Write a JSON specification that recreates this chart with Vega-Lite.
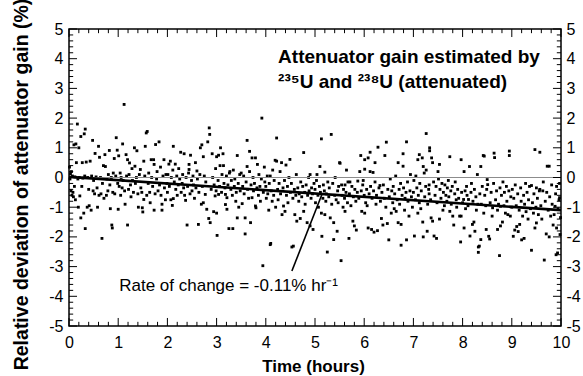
{
"$schema":"https://vega.github.io/schema/vega-lite/v6.json",
"width":492,"height":297,"autosize":"none",
"padding":{"left":69,"top":29,"right":22,"bottom":50},
"background":"#ffffff",
"config":{"view":{"stroke":"#000000","strokeWidth":1.5},"axis":{"grid":false,"domain":false,"ticks":false,"labelColor":"#000000","labelFont":"Liberation Sans","labelFontSize":16,"titleColor":"#000000","titleFont":"Liberation Sans","titleFontSize":19.5,"titleFontWeight":"bold","labelFlush":false,"labelOverlap":false,"labelBound":false}},
"resolve":{"axis":{"x":"independent","y":"independent"}},
"datasets":{
"xmaj":[{"p":0},{"p":1},{"p":2},{"p":3},{"p":4},{"p":5},{"p":6},{"p":7},{"p":8},{"p":9},{"p":10}],
"xmin":[{"p":0.2},{"p":0.4},{"p":0.6},{"p":0.8},{"p":1.2},{"p":1.4},{"p":1.6},{"p":1.8},{"p":2.2},{"p":2.4},{"p":2.6},{"p":2.8},{"p":3.2},{"p":3.4},{"p":3.6},{"p":3.8},{"p":4.2},{"p":4.4},{"p":4.6},{"p":4.8},{"p":5.2},{"p":5.4},{"p":5.6},{"p":5.8},{"p":6.2},{"p":6.4},{"p":6.6},{"p":6.8},{"p":7.2},{"p":7.4},{"p":7.6},{"p":7.8},{"p":8.2},{"p":8.4},{"p":8.6},{"p":8.8},{"p":9.2},{"p":9.4},{"p":9.6},{"p":9.8}],
"ymaj":[{"p":-5},{"p":-4},{"p":-3},{"p":-2},{"p":-1},{"p":0},{"p":1},{"p":2},{"p":3},{"p":4},{"p":5}],
"ymin":[{"p":-4.8},{"p":-4.6},{"p":-4.4},{"p":-4.2},{"p":-3.8},{"p":-3.6},{"p":-3.4},{"p":-3.2},{"p":-2.8},{"p":-2.6},{"p":-2.4},{"p":-2.2},{"p":-1.8},{"p":-1.6},{"p":-1.4},{"p":-1.2},{"p":-0.8},{"p":-0.6},{"p":-0.4},{"p":-0.2},{"p":0.2},{"p":0.4},{"p":0.6},{"p":0.8},{"p":1.2},{"p":1.4},{"p":1.6},{"p":1.8},{"p":2.2},{"p":2.4},{"p":2.6},{"p":2.8},{"p":3.2},{"p":3.4},{"p":3.6},{"p":3.8},{"p":4.2},{"p":4.4},{"p":4.6},{"p":4.8}]
},
"layer":[
{"data":{"values":[
{"t":0.01,"v":0.35},{"t":0.02,"v":-0.05},{"t":0.03,"v":0.13},{"t":0.04,"v":-0.45},{"t":0.05,"v":0.2},{"t":0.06,"v":-0.6},{"t":0.07,"v":0.05},{"t":0.08,"v":-0.5},{"t":0.09,"v":-0.65},{"t":0.10,"v":1.1},{"t":0.11,"v":-0.3},{"t":0.12,"v":0.02},{"t":0.13,"v":-0.75},{"t":0.14,"v":1.13},{"t":0.15,"v":0.5},{"t":0.17,"v":1.8},{"t":0.18,"v":-0.05},{"t":0.19,"v":-1.0},{"t":0.20,"v":1.0},{"t":0.21,"v":0.0},{"t":0.22,"v":-0.62},{"t":0.24,"v":1.38},{"t":0.24,"v":-1.36},{"t":0.26,"v":-0.3},{"t":0.27,"v":0.5},{"t":0.28,"v":-0.02},{"t":0.30,"v":-1.2},{"t":0.31,"v":1.47},{"t":0.32,"v":0.05},{"t":0.33,"v":1.63},{"t":0.33,"v":-1.72},{"t":0.35,"v":0.52},{"t":0.37,"v":-1.0},{"t":0.38,"v":0.0},{"t":0.40,"v":-0.4},{"t":0.41,"v":-0.95},{"t":0.43,"v":0.55},{"t":0.45,"v":-1.1},{"t":0.46,"v":0.05},{"t":0.48,"v":1.25},{"t":0.49,"v":-0.45},{"t":0.50,"v":-0.1},{"t":0.52,"v":-0.55},{"t":0.53,"v":0.81},{"t":0.55,"v":0.02},{"t":0.57,"v":-0.35},{"t":0.58,"v":-1.0},{"t":0.60,"v":1.05},{"t":0.61,"v":-0.6},{"t":0.62,"v":0.68},{"t":0.64,"v":0.0},{"t":0.65,"v":-0.55},{"t":0.67,"v":-2.05},{"t":0.68,"v":-0.2},{"t":0.70,"v":0.4},{"t":0.71,"v":-0.7},{"t":0.73,"v":0.77},{"t":0.74,"v":0.37},{"t":0.76,"v":-0.6},{"t":0.77,"v":-0.05},{"t":0.79,"v":-0.45},{"t":0.80,"v":0.1},{"t":0.82,"v":0.91},{"t":0.83,"v":-0.25},{"t":0.84,"v":-1.05},{"t":0.86,"v":0.0},{"t":0.87,"v":-1.6},{"t":0.88,"v":-1.7},{"t":0.89,"v":-0.5},{"t":0.90,"v":0.15},{"t":0.92,"v":0.64},{"t":0.93,"v":-0.55},{"t":0.95,"v":0.05},{"t":0.96,"v":1.34},{"t":0.98,"v":0.92},{"t":0.99,"v":-0.2},
{"t":1.00,"v":-1.07},{"t":1.01,"v":0.73},{"t":1.02,"v":-0.3},{"t":1.04,"v":0.15},{"t":1.05,"v":-0.6},{"t":1.06,"v":0.0},{"t":1.08,"v":-0.35},{"t":1.09,"v":1.13},{"t":1.10,"v":-0.1},{"t":1.12,"v":2.46},{"t":1.13,"v":-0.45},{"t":1.14,"v":-0.9},{"t":1.16,"v":0.77},{"t":1.17,"v":0.05},{"t":1.19,"v":0.6},{"t":1.19,"v":-1.6},{"t":1.21,"v":-0.4},{"t":1.22,"v":0.1},{"t":1.23,"v":0.49},{"t":1.25,"v":-0.25},{"t":1.26,"v":-0.65},{"t":1.28,"v":0.3},{"t":1.29,"v":-0.1},{"t":1.31,"v":-0.5},{"t":1.33,"v":1.0},{"t":1.34,"v":0.38},{"t":1.35,"v":-0.2},{"t":1.37,"v":0.0},{"t":1.38,"v":0.9},{"t":1.40,"v":-0.55},{"t":1.41,"v":-1.0},{"t":1.43,"v":0.1},{"t":1.45,"v":0.27},{"t":1.46,"v":-0.35},{"t":1.48,"v":-0.5},{"t":1.49,"v":-1.02},{"t":1.50,"v":-1.16},{"t":1.52,"v":0.55},{"t":1.52,"v":-0.74},{"t":1.54,"v":0.05},{"t":1.55,"v":1.05},{"t":1.57,"v":1.5},{"t":1.58,"v":-0.6},{"t":1.59,"v":1.55},{"t":1.61,"v":-0.2},{"t":1.62,"v":0.15},{"t":1.64,"v":-0.5},{"t":1.65,"v":-0.85},{"t":1.67,"v":0.6},{"t":1.68,"v":0.0},{"t":1.70,"v":-0.3},{"t":1.72,"v":0.6},{"t":1.73,"v":0.44},{"t":1.73,"v":-1.1},{"t":1.75,"v":-0.55},{"t":1.76,"v":1.11},{"t":1.78,"v":-0.05},{"t":1.79,"v":0.2},{"t":1.81,"v":-0.45},{"t":1.83,"v":1.2},{"t":1.84,"v":-0.25},{"t":1.86,"v":0.35},{"t":1.87,"v":-0.6},{"t":1.89,"v":-0.9},{"t":1.89,"v":-1.1},{"t":1.91,"v":0.05},{"t":1.93,"v":0.6},{"t":1.94,"v":-0.35},{"t":1.96,"v":-0.75},{"t":1.97,"v":0.1},{"t":1.99,"v":-0.2},
{"t":2.00,"v":-0.5},{"t":2.01,"v":0.1},{"t":2.03,"v":0.45},{"t":2.04,"v":-0.3},{"t":2.06,"v":0.55},{"t":2.07,"v":-0.75},{"t":2.08,"v":0.0},{"t":2.10,"v":-0.94},{"t":2.11,"v":0.25},{"t":2.12,"v":1.05},{"t":2.12,"v":-0.71},{"t":2.14,"v":-0.15},{"t":2.16,"v":0.45},{"t":2.17,"v":-0.4},{"t":2.19,"v":0.05},{"t":2.20,"v":-0.6},{"t":2.22,"v":-0.25},{"t":2.23,"v":0.3},{"t":2.25,"v":-0.05},{"t":2.27,"v":0.85},{"t":2.28,"v":-0.5},{"t":2.30,"v":-0.2},{"t":2.31,"v":0.1},{"t":2.33,"v":-0.35},{"t":2.34,"v":0.8},{"t":2.35,"v":-0.6},{"t":2.37,"v":-0.77},{"t":2.38,"v":0.0},{"t":2.40,"v":-1.6},{"t":2.41,"v":-0.3},{"t":2.43,"v":0.15},{"t":2.44,"v":0.44},{"t":2.44,"v":0.27},{"t":2.46,"v":-0.55},{"t":2.47,"v":0.75},{"t":2.49,"v":-0.1},{"t":2.50,"v":-0.45},{"t":2.52,"v":0.05},{"t":2.53,"v":-0.25},{"t":2.55,"v":-0.7},{"t":2.57,"v":0.5},{"t":2.58,"v":-0.35},{"t":2.60,"v":0.22},{"t":2.61,"v":-0.05},{"t":2.63,"v":-1.58},{"t":2.64,"v":-0.5},{"t":2.66,"v":0.1},{"t":2.67,"v":1.0},{"t":2.69,"v":-0.9},{"t":2.70,"v":1.1},{"t":2.71,"v":-0.3},{"t":2.73,"v":0.7},{"t":2.73,"v":-0.85},{"t":2.75,"v":0.05},{"t":2.77,"v":-0.57},{"t":2.78,"v":-0.15},{"t":2.80,"v":-1.07},{"t":2.82,"v":1.2},{"t":2.84,"v":-1.38},{"t":2.85,"v":1.67},{"t":2.86,"v":1.45},{"t":2.87,"v":-1.52},{"t":2.89,"v":-0.4},{"t":2.91,"v":0.8},{"t":2.92,"v":0.0},{"t":2.94,"v":-1.15},{"t":2.95,"v":-0.25},{"t":2.97,"v":-0.62},{"t":2.98,"v":0.3},{"t":2.99,"v":-0.45},
{"t":3.00,"v":-1.2},{"t":3.00,"v":0.7},{"t":3.01,"v":-1.95},{"t":3.03,"v":-0.1},{"t":3.04,"v":0.75},{"t":3.04,"v":-0.57},{"t":3.06,"v":-0.3},{"t":3.07,"v":0.4},{"t":3.08,"v":1.0},{"t":3.10,"v":-0.5},{"t":3.11,"v":0.1},{"t":3.13,"v":0.8},{"t":3.14,"v":0.4},{"t":3.15,"v":-0.2},{"t":3.17,"v":-0.35},{"t":3.18,"v":-0.57},{"t":3.18,"v":-0.91},{"t":3.20,"v":0.05},{"t":3.21,"v":-0.68},{"t":3.21,"v":-1.07},{"t":3.23,"v":-0.25},{"t":3.25,"v":-1.72},{"t":3.26,"v":0.15},{"t":3.27,"v":0.2},{"t":3.29,"v":-0.4},{"t":3.30,"v":-0.1},{"t":3.32,"v":-0.6},{"t":3.33,"v":-1.72},{"t":3.34,"v":0.25},{"t":3.36,"v":-0.3},{"t":3.37,"v":-0.05},{"t":3.39,"v":-0.8},{"t":3.40,"v":-0.5},{"t":3.42,"v":0.74},{"t":3.42,"v":-1.36},{"t":3.44,"v":-0.2},{"t":3.45,"v":-1.0},{"t":3.47,"v":0.1},{"t":3.48,"v":-0.45},{"t":3.50,"v":0.15},{"t":3.52,"v":-0.88},{"t":3.53,"v":-0.3},{"t":3.55,"v":0.05},{"t":3.56,"v":-0.55},{"t":3.58,"v":-1.36},{"t":3.58,"v":-1.9},{"t":3.60,"v":-0.15},{"t":3.62,"v":1.25},{"t":3.62,"v":0.37},{"t":3.63,"v":-0.4},{"t":3.65,"v":-0.7},{"t":3.67,"v":0.88},{"t":3.67,"v":0.2},{"t":3.69,"v":-1.52},{"t":3.70,"v":-0.25},{"t":3.72,"v":0.66},{"t":3.72,"v":-0.68},{"t":3.74,"v":0.0},{"t":3.75,"v":-0.45},{"t":3.77,"v":-0.2},{"t":3.79,"v":0.66},{"t":3.79,"v":-0.96},{"t":3.80,"v":-1.02},{"t":3.82,"v":-0.35},{"t":3.83,"v":0.44},{"t":3.85,"v":-0.6},{"t":3.86,"v":0.1},{"t":3.88,"v":-0.3},{"t":3.89,"v":-0.8},{"t":3.91,"v":-0.05},{"t":3.92,"v":2.0},{"t":3.94,"v":-2.97},{"t":3.95,"v":-0.5},{"t":3.97,"v":0.35},{"t":3.98,"v":-0.15},
{"t":4.00,"v":-0.3},{"t":4.01,"v":-0.7},{"t":4.03,"v":0.05},{"t":4.04,"v":-0.55},{"t":4.06,"v":-1.1},{"t":4.07,"v":-0.2},{"t":4.09,"v":0.05},{"t":4.09,"v":-2.26},{"t":4.10,"v":-2.22},{"t":4.11,"v":-0.45},{"t":4.13,"v":-0.8},{"t":4.14,"v":0.25},{"t":4.16,"v":-0.6},{"t":4.17,"v":-0.1},{"t":4.19,"v":0.58},{"t":4.20,"v":-1.0},{"t":4.22,"v":0.55},{"t":4.22,"v":1.33},{"t":4.24,"v":-0.4},{"t":4.25,"v":-0.75},{"t":4.27,"v":-0.2},{"t":4.29,"v":0.2},{"t":4.30,"v":-0.55},{"t":4.32,"v":0.5},{"t":4.33,"v":-1.25},{"t":4.35,"v":-0.35},{"t":4.36,"v":-0.96},{"t":4.38,"v":-0.1},{"t":4.39,"v":-1.14},{"t":4.41,"v":0.42},{"t":4.42,"v":-0.6},{"t":4.44,"v":-0.3},{"t":4.45,"v":-0.85},{"t":4.47,"v":0.0},{"t":4.49,"v":0.61},{"t":4.50,"v":-0.5},{"t":4.52,"v":-0.2},{"t":4.53,"v":-2.34},{"t":4.55,"v":-0.7},{"t":4.56,"v":-2.31},{"t":4.58,"v":-0.4},{"t":4.59,"v":-1.25},{"t":4.61,"v":-0.6},{"t":4.62,"v":0.1},{"t":4.63,"v":-1.47},{"t":4.65,"v":-0.35},{"t":4.67,"v":-0.8},{"t":4.68,"v":-0.55},{"t":4.70,"v":-1.38},{"t":4.71,"v":-0.15},{"t":4.73,"v":-0.65},{"t":4.75,"v":-0.3},{"t":4.77,"v":0.84},{"t":4.77,"v":-1.14},{"t":4.79,"v":-0.5},{"t":4.80,"v":-0.9},{"t":4.82,"v":-0.25},{"t":4.84,"v":-1.52},{"t":4.85,"v":-0.6},{"t":4.87,"v":0.0},{"t":4.88,"v":-0.45},{"t":4.90,"v":0.1},{"t":4.90,"v":-1.63},{"t":4.92,"v":-0.7},{"t":4.93,"v":-0.35},{"t":4.95,"v":-0.55},{"t":4.96,"v":-1.75},{"t":4.98,"v":-0.2},
{"t":5.00,"v":-0.4},{"t":5.01,"v":-0.85},{"t":5.03,"v":-0.1},{"t":5.04,"v":0.1},{"t":5.06,"v":-0.6},{"t":5.07,"v":-1.0},{"t":5.09,"v":-0.3},{"t":5.10,"v":0.37},{"t":5.11,"v":-0.5},{"t":5.13,"v":1.3},{"t":5.13,"v":-1.2},{"t":5.14,"v":-1.98},{"t":5.16,"v":-0.7},{"t":5.17,"v":-0.25},{"t":5.19,"v":-0.45},{"t":5.20,"v":0.18},{"t":5.20,"v":-1.25},{"t":5.22,"v":-0.8},{"t":5.23,"v":-0.55},{"t":5.25,"v":-2.51},{"t":5.26,"v":-0.15},{"t":5.28,"v":-0.65},{"t":5.29,"v":-0.35},{"t":5.31,"v":-1.36},{"t":5.33,"v":1.45},{"t":5.34,"v":-0.9},{"t":5.36,"v":-0.2},{"t":5.38,"v":-1.52},{"t":5.38,"v":-2.09},{"t":5.40,"v":-0.6},{"t":5.41,"v":0.0},{"t":5.43,"v":-0.75},{"t":5.45,"v":-1.81},{"t":5.46,"v":-0.45},{"t":5.47,"v":-0.85},{"t":5.48,"v":-0.3},{"t":5.50,"v":0.5},{"t":5.51,"v":0.48},{"t":5.53,"v":-2.8},{"t":5.54,"v":-0.25},{"t":5.55,"v":-0.6},{"t":5.57,"v":-1.0},{"t":5.58,"v":-0.4},{"t":5.60,"v":-0.7},{"t":5.61,"v":-0.25},{"t":5.61,"v":-1.14},{"t":5.63,"v":-0.5},{"t":5.64,"v":0.25},{"t":5.66,"v":-0.85},{"t":5.67,"v":-0.15},{"t":5.69,"v":-2.05},{"t":5.70,"v":-0.55},{"t":5.71,"v":-0.15},{"t":5.73,"v":-0.95},{"t":5.75,"v":-0.3},{"t":5.77,"v":-1.47},{"t":5.78,"v":-0.65},{"t":5.80,"v":-1.63},{"t":5.81,"v":-0.4},{"t":5.83,"v":-0.8},{"t":5.84,"v":-1.77},{"t":5.86,"v":-0.5},{"t":5.87,"v":-0.12},{"t":5.89,"v":-0.7},{"t":5.91,"v":0.2},{"t":5.93,"v":0.74},{"t":5.94,"v":-0.45},{"t":5.95,"v":-1.14},{"t":5.97,"v":-0.25},{"t":5.98,"v":-0.1},
{"t":6.00,"v":-0.6},{"t":6.01,"v":0.6},{"t":6.01,"v":0.28},{"t":6.01,"v":-1.2},{"t":6.03,"v":-0.85},{"t":6.05,"v":-0.4},{"t":6.06,"v":-0.95},{"t":6.08,"v":0.66},{"t":6.08,"v":-1.7},{"t":6.10,"v":-0.55},{"t":6.12,"v":0.85},{"t":6.12,"v":0.2},{"t":6.13,"v":-0.3},{"t":6.15,"v":-1.75},{"t":6.16,"v":-0.7},{"t":6.18,"v":0.17},{"t":6.19,"v":-0.45},{"t":6.20,"v":-1.84},{"t":6.22,"v":0.5},{"t":6.22,"v":-0.15},{"t":6.24,"v":-0.9},{"t":6.25,"v":-0.6},{"t":6.27,"v":-1.79},{"t":6.28,"v":1.02},{"t":6.30,"v":-0.35},{"t":6.32,"v":-0.27},{"t":6.33,"v":-0.8},{"t":6.35,"v":-1.38},{"t":6.36,"v":-0.5},{"t":6.38,"v":-1.6},{"t":6.39,"v":-0.25},{"t":6.41,"v":-0.7},{"t":6.42,"v":0.74},{"t":6.44,"v":-1.0},{"t":6.45,"v":1.19},{"t":6.47,"v":-1.55},{"t":6.48,"v":-0.4},{"t":6.50,"v":-2.1},{"t":6.51,"v":-0.65},{"t":6.53,"v":-0.05},{"t":6.55,"v":-1.2},{"t":6.56,"v":-0.45},{"t":6.58,"v":-0.85},{"t":6.59,"v":-0.3},{"t":6.61,"v":-1.05},{"t":6.62,"v":-0.55},{"t":6.64,"v":0.05},{"t":6.65,"v":-1.14},{"t":6.67,"v":-0.75},{"t":6.69,"v":0.5},{"t":6.69,"v":-1.52},{"t":6.71,"v":-0.4},{"t":6.72,"v":-0.9},{"t":6.74,"v":-0.2},{"t":6.75,"v":-1.58},{"t":6.75,"v":-2.28},{"t":6.77,"v":-0.6},{"t":6.79,"v":0.8},{"t":6.79,"v":0.38},{"t":6.80,"v":-0.35},{"t":6.82,"v":-1.1},{"t":6.83,"v":-0.7},{"t":6.85,"v":-0.5},{"t":6.86,"v":1.2},{"t":6.86,"v":-2.1},{"t":6.88,"v":-0.15},{"t":6.89,"v":-0.8},{"t":6.91,"v":-1.3},{"t":6.93,"v":-0.45},{"t":6.94,"v":0.1},{"t":6.96,"v":-0.65},{"t":6.98,"v":-1.0},
{"t":7.00,"v":-0.5},{"t":7.01,"v":-0.1},{"t":7.02,"v":-1.97},{"t":7.04,"v":-0.75},{"t":7.05,"v":0.05},{"t":7.07,"v":-0.35},{"t":7.09,"v":0.6},{"t":7.09,"v":-1.2},{"t":7.10,"v":-0.6},{"t":7.12,"v":0.77},{"t":7.12,"v":-0.85},{"t":7.13,"v":-0.2},{"t":7.15,"v":-1.05},{"t":7.16,"v":-0.45},{"t":7.18,"v":0.66},{"t":7.19,"v":-1.5},{"t":7.20,"v":0.37},{"t":7.20,"v":-2.0},{"t":7.22,"v":0.15},{"t":7.23,"v":-0.65},{"t":7.25,"v":-0.3},{"t":7.26,"v":1.48},{"t":7.26,"v":0.25},{"t":7.28,"v":-1.81},{"t":7.29,"v":-0.9},{"t":7.31,"v":-0.4},{"t":7.32,"v":-0.25},{"t":7.32,"v":-0.55},{"t":7.33,"v":1.0},{"t":7.33,"v":0.9},{"t":7.35,"v":-0.75},{"t":7.36,"v":-1.36},{"t":7.37,"v":0.66},{"t":7.39,"v":0.5},{"t":7.39,"v":-1.47},{"t":7.41,"v":-0.15},{"t":7.42,"v":-1.97},{"t":7.44,"v":-0.6},{"t":7.46,"v":-0.3},{"t":7.47,"v":-2.05},{"t":7.48,"v":-0.85},{"t":7.50,"v":0.2},{"t":7.51,"v":-0.05},{"t":7.53,"v":0.44},{"t":7.53,"v":-1.4},{"t":7.54,"v":-0.4},{"t":7.56,"v":-0.7},{"t":7.58,"v":-0.2},{"t":7.60,"v":-1.1},{"t":7.61,"v":-0.5},{"t":7.63,"v":-0.95},{"t":7.64,"v":-0.25},{"t":7.66,"v":-0.6},{"t":7.68,"v":-0.8},{"t":7.69,"v":-0.35},{"t":7.71,"v":-0.1},{"t":7.72,"v":-0.65},{"t":7.74,"v":0.7},{"t":7.74,"v":-1.14},{"t":7.76,"v":-0.45},{"t":7.77,"v":-0.9},{"t":7.79,"v":-0.3},{"t":7.80,"v":-1.3},{"t":7.82,"v":-1.6},{"t":7.84,"v":-0.55},{"t":7.85,"v":-0.15},{"t":7.87,"v":-0.75},{"t":7.88,"v":-1.0},{"t":7.90,"v":-0.4},{"t":7.92,"v":-0.7},{"t":7.94,"v":-1.3},{"t":7.96,"v":-2.17},{"t":7.97,"v":0.6},{"t":7.97,"v":-1.3},{"t":7.98,"v":-0.5},
{"t":8.00,"v":-0.85},{"t":8.02,"v":-0.74},{"t":8.03,"v":0.2},{"t":8.03,"v":-1.7},{"t":8.05,"v":-0.45},{"t":8.06,"v":-1.05},{"t":8.08,"v":-0.3},{"t":8.09,"v":-0.6},{"t":8.11,"v":-0.95},{"t":8.12,"v":-0.74},{"t":8.14,"v":0.37},{"t":8.15,"v":-1.97},{"t":8.17,"v":-0.5},{"t":8.18,"v":-0.2},{"t":8.20,"v":-1.58},{"t":8.21,"v":-0.8},{"t":8.23,"v":-1.5},{"t":8.24,"v":-0.4},{"t":8.25,"v":-1.81},{"t":8.27,"v":-0.65},{"t":8.28,"v":-1.1},{"t":8.30,"v":0.1},{"t":8.31,"v":-0.9},{"t":8.32,"v":-2.34},{"t":8.32,"v":-2.52},{"t":8.34,"v":-2.31},{"t":8.35,"v":-0.55},{"t":8.37,"v":0.37},{"t":8.37,"v":-2.09},{"t":8.38,"v":-0.9},{"t":8.40,"v":-0.3},{"t":8.42,"v":0.74},{"t":8.43,"v":-1.2},{"t":8.44,"v":0.72},{"t":8.45,"v":-0.6},{"t":8.47,"v":-0.95},{"t":8.48,"v":-1.75},{"t":8.49,"v":-0.4},{"t":8.50,"v":-0.07},{"t":8.51,"v":-0.24},{"t":8.53,"v":-1.98},{"t":8.55,"v":-2.07},{"t":8.56,"v":-0.85},{"t":8.58,"v":-0.5},{"t":8.60,"v":-1.3},{"t":8.61,"v":-1.02},{"t":8.63,"v":-0.2},{"t":8.64,"v":0.82},{"t":8.65,"v":0.67},{"t":8.67,"v":-0.75},{"t":8.69,"v":-0.45},{"t":8.71,"v":-1.1},{"t":8.71,"v":-1.75},{"t":8.73,"v":-0.9},{"t":8.75,"v":-2.63},{"t":8.76,"v":-0.35},{"t":8.77,"v":-0.97},{"t":8.77,"v":-1.63},{"t":8.79,"v":-0.6},{"t":8.81,"v":-1.5},{"t":8.82,"v":-0.15},{"t":8.84,"v":-0.95},{"t":8.85,"v":-0.5},{"t":8.87,"v":-1.2},{"t":8.89,"v":-0.3},{"t":8.90,"v":-0.8},{"t":8.92,"v":-1.25},{"t":8.94,"v":-0.45},{"t":8.95,"v":0.89},{"t":8.95,"v":0.74},{"t":8.97,"v":-1.3},{"t":8.98,"v":-0.65},
{"t":9.00,"v":-1.0},{"t":9.01,"v":-0.4},{"t":9.03,"v":-1.98},{"t":9.04,"v":-0.7},{"t":9.06,"v":-1.77},{"t":9.07,"v":-0.25},{"t":9.09,"v":-0.95},{"t":9.10,"v":-1.65},{"t":9.12,"v":-0.55},{"t":9.13,"v":-1.82},{"t":9.15,"v":-1.1},{"t":9.16,"v":-1.58},{"t":9.18,"v":-0.35},{"t":9.19,"v":-0.8},{"t":9.20,"v":-2.1},{"t":9.22,"v":-1.3},{"t":9.24,"v":-0.6},{"t":9.25,"v":-2.05},{"t":9.26,"v":-0.9},{"t":9.28,"v":-0.2},{"t":9.29,"v":-1.15},{"t":9.31,"v":-0.5},{"t":9.33,"v":-1.4},{"t":9.34,"v":-0.75},{"t":9.36,"v":-0.3},{"t":9.38,"v":-1.05},{"t":9.40,"v":-0.27},{"t":9.40,"v":-2.45},{"t":9.42,"v":-0.85},{"t":9.44,"v":-1.2},{"t":9.45,"v":-0.55},{"t":9.47,"v":0.94},{"t":9.47,"v":-1.7},{"t":9.49,"v":-1.0},{"t":9.50,"v":-0.35},{"t":9.50,"v":-1.53},{"t":9.52,"v":-0.7},{"t":9.54,"v":-1.25},{"t":9.56,"v":-0.45},{"t":9.57,"v":0.85},{"t":9.57,"v":-0.4},{"t":9.59,"v":-0.95},{"t":9.61,"v":-1.4},{"t":9.63,"v":-0.45},{"t":9.64,"v":-0.15},{"t":9.66,"v":-2.78},{"t":9.68,"v":-0.8},{"t":9.70,"v":-1.9},{"t":9.71,"v":-0.5},{"t":9.72,"v":0.38},{"t":9.74,"v":-1.1},{"t":9.76,"v":0.38},{"t":9.76,"v":-2.0},{"t":9.77,"v":-0.65},{"t":9.79,"v":-1.3},{"t":9.81,"v":-0.25},{"t":9.82,"v":-0.9},{"t":9.84,"v":-1.6},{"t":9.86,"v":-1.25},{"t":9.88,"v":-0.97},{"t":9.89,"v":-0.55},{"t":9.90,"v":-2.6},{"t":9.91,"v":-0.3},{"t":9.91,"v":-1.7},{"t":9.93,"v":-2.54},{"t":9.94,"v":-1.05},{"t":9.96,"v":-0.75},{"t":9.97,"v":-0.2},{"t":9.97,"v":-0.68},{"t":9.98,"v":-1.92},{"t":9.99,"v":-1.35}
]},
"mark":{"type":"square","size":8,"color":"#000000","opacity":1,"filled":true},
"encoding":{
"x":{"field":"t","type":"quantitative","scale":{"domain":[0,10],"nice":false,"zero":false},"axis":{"orient":"bottom","values":[0,1,2,3,4,5,6,7,8,9,10],"labelPadding":8,"labelExpr":"'' + datum.value","title":"Time (hours)","titleFontSize":17,"titleX":244,"titleY":40,"titleBaseline":"middle"}},
"y":{"field":"v","type":"quantitative","scale":{"domain":[-5,5],"nice":false,"zero":false},"axis":{"orient":"left","values":[-5,-4,-3,-2,-1,0,1,2,3,4,5],"labelPadding":6,"labelExpr":"'' + datum.value","title":"Relative deviation of attenuator gain (%)","titleX":-48,"titleY":155,"titleAngle":-90,"titleBaseline":"middle","titleAlign":"center"}}
}},
{"data":{"values":[{"t":0,"v":0},{"t":10,"v":0}]},
"mark":{"type":"line","color":"#8c8c8c","strokeWidth":1},
"encoding":{
"x":{"field":"t","type":"quantitative","scale":{"domain":[0,10],"nice":false,"zero":false},"axis":null},
"y":{"field":"v","type":"quantitative","scale":{"domain":[-5,5],"nice":false,"zero":false},"axis":null}
}},
{"data":{"values":[{"t":0,"v":0.02},{"t":10,"v":-1.1}]},
"mark":{"type":"line","color":"#000000","strokeWidth":2.6},
"encoding":{
"x":{"field":"t","type":"quantitative","scale":{"domain":[0,10],"nice":false,"zero":false},"axis":null},
"y":{"field":"v","type":"quantitative","scale":{"domain":[-5,5],"nice":false,"zero":false},"axis":null}
}},
{"data":{"values":[{"t":5.14,"v":-0.57},{"t":4.53,"v":-3.15}]},
"mark":{"type":"line","color":"#000000","strokeWidth":1.6},
"encoding":{
"x":{"field":"t","type":"quantitative","scale":{"domain":[0,10],"nice":false,"zero":false},"axis":null},
"y":{"field":"v","type":"quantitative","scale":{"domain":[-5,5],"nice":false,"zero":false},"axis":null}
}},
{"data":{"name":"xmaj"},"mark":{"type":"rule","color":"#000000","strokeWidth":1},
"encoding":{"x":{"field":"p","type":"quantitative","scale":{"domain":[0,10],"nice":false,"zero":false},"axis":null},"y":{"datum":-5,"type":"quantitative","scale":{"domain":[-5,5],"nice":false,"zero":false},"axis":null},"y2":{"datum":-4.73}}},
{"data":{"name":"xmaj"},"mark":{"type":"rule","color":"#000000","strokeWidth":1},
"encoding":{"x":{"field":"p","type":"quantitative","scale":{"domain":[0,10],"nice":false,"zero":false},"axis":null},"y":{"datum":5,"type":"quantitative","scale":{"domain":[-5,5],"nice":false,"zero":false},"axis":null},"y2":{"datum":4.73}}},
{"data":{"name":"xmin"},"mark":{"type":"rule","color":"#000000","strokeWidth":1},
"encoding":{"x":{"field":"p","type":"quantitative","scale":{"domain":[0,10],"nice":false,"zero":false},"axis":null},"y":{"datum":-5,"type":"quantitative","scale":{"domain":[-5,5],"nice":false,"zero":false},"axis":null},"y2":{"datum":-4.86}}},
{"data":{"name":"xmin"},"mark":{"type":"rule","color":"#000000","strokeWidth":1},
"encoding":{"x":{"field":"p","type":"quantitative","scale":{"domain":[0,10],"nice":false,"zero":false},"axis":null},"y":{"datum":5,"type":"quantitative","scale":{"domain":[-5,5],"nice":false,"zero":false},"axis":null},"y2":{"datum":4.86}}},
{"data":{"name":"ymaj"},"mark":{"type":"rule","color":"#000000","strokeWidth":1},
"encoding":{"y":{"field":"p","type":"quantitative","scale":{"domain":[-5,5],"nice":false,"zero":false},"axis":null},"x":{"datum":0,"type":"quantitative","scale":{"domain":[0,10],"nice":false,"zero":false},"axis":null},"x2":{"datum":0.163}}},
{"data":{"name":"ymaj"},"mark":{"type":"rule","color":"#000000","strokeWidth":1},
"encoding":{"y":{"field":"p","type":"quantitative","scale":{"domain":[-5,5],"nice":false,"zero":false},"axis":null},"x":{"datum":10,"type":"quantitative","scale":{"domain":[0,10],"nice":false,"zero":false},"axis":null},"x2":{"datum":9.837}}},
{"data":{"name":"ymin"},"mark":{"type":"rule","color":"#000000","strokeWidth":1},
"encoding":{"y":{"field":"p","type":"quantitative","scale":{"domain":[-5,5],"nice":false,"zero":false},"axis":null},"x":{"datum":0,"type":"quantitative","scale":{"domain":[0,10],"nice":false,"zero":false},"axis":null},"x2":{"datum":0.085}}},
{"data":{"name":"ymin"},"mark":{"type":"rule","color":"#000000","strokeWidth":1},
"encoding":{"y":{"field":"p","type":"quantitative","scale":{"domain":[-5,5],"nice":false,"zero":false},"axis":null},"x":{"datum":10,"type":"quantitative","scale":{"domain":[0,10],"nice":false,"zero":false},"axis":null},"x2":{"datum":9.915}}},
{"data":{"values":[{}]},
"mark":{"type":"text","text":"Attenuator gain estimated by","align":"left","baseline":"middle","font":"Liberation Sans","fontSize":19,"fontWeight":"bold","color":"#000000"},
"encoding":{
"x":{"datum":4.25,"type":"quantitative","scale":{"domain":[0,10],"nice":false,"zero":false},"axis":null},
"y":{"datum":4.07,"type":"quantitative","scale":{"domain":[-5,5],"nice":false,"zero":false},"axis":null}
}},
{"data":{"values":[{}]},
"mark":{"type":"text","text":"²³⁵U and ²³⁸U (attenuated)","align":"left","baseline":"middle","font":"Liberation Sans","fontSize":19,"fontWeight":"bold","color":"#000000"},
"encoding":{
"x":{"datum":4.25,"type":"quantitative","scale":{"domain":[0,10],"nice":false,"zero":false},"axis":null},
"y":{"datum":3.2,"type":"quantitative","scale":{"domain":[-5,5],"nice":false,"zero":false},"axis":{"orient":"right","values":[-5,-4,-3,-2,-1,0,1,2,3,4,5],"labelPadding":5,"labelExpr":"'' + datum.value","title":null}}
}},
{"data":{"values":[{}]},
"mark":{"type":"text","text":"Rate of change = -0.11% hr⁻¹","align":"left","baseline":"middle","font":"Liberation Sans","fontSize":17,"color":"#000000"},
"encoding":{
"x":{"datum":1.02,"type":"quantitative","scale":{"domain":[0,10],"nice":false,"zero":false},"axis":null},
"y":{"datum":-3.65,"type":"quantitative","scale":{"domain":[-5,5],"nice":false,"zero":false},"axis":null}
}}
]
}
